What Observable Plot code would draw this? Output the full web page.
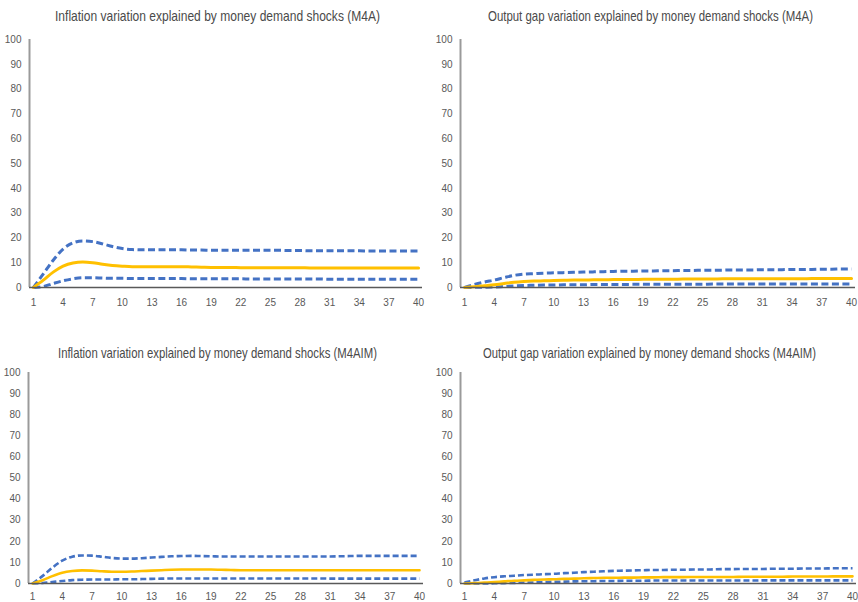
<!DOCTYPE html>
<html><head><meta charset="utf-8">
<script src="https://cdn.jsdelivr.net/npm/d3@7"></script>
<script src="https://cdn.jsdelivr.net/npm/@observablehq/plot@0.6"></script>
<style>
body{margin:0;background:#fff;}
#root{position:relative;width:858px;height:602px;overflow:hidden;background:#fff;}
.title{position:absolute;white-space:nowrap;font-family:"Liberation Sans",Arial,sans-serif;font-size:15px;line-height:17px;color:#4a4a4a;transform-origin:0 50%;}
.panel{position:absolute;}
</style></head><body>
<div id="root"></div>
<script>
const periods = d3.range(1, 41);
const xTicks = [1, 4, 7, 10, 13, 16, 19, 22, 25, 28, 31, 34, 37, 40];
const yTicks = [0, 10, 20, 30, 40, 50, 60, 70, 80, 90, 100];
const titles = [
  "Inflation variation explained by money demand shocks (M4A)",
  "Output gap variation explained by money demand shocks (M4A)",
  "Inflation variation explained by money demand shocks (M4AIM)",
  "Output gap variation explained by money demand shocks (M4AIM)"
];

// Panel 1: Inflation (M4A)
const infM4A_upper = [0,5.5,11,15.5,18,18.8,18.5,17.6,16.5,15.7,15.3,15.2,15.2,15.2,15.2,15.2,15.1,15.1,15.0,15.0,15.0,15.0,15.0,15.0,15.0,15.0,14.9,14.9,14.8,14.8,14.8,14.8,14.8,14.8,14.7,14.7,14.7,14.7,14.7,14.7];
const infM4A_mean  = [0,3,6.2,8.6,9.9,10.3,10.0,9.4,8.9,8.6,8.4,8.4,8.4,8.4,8.4,8.4,8.3,8.2,8.1,8.1,8.1,8.0,8.0,8.0,8.0,8.0,8.0,8.0,7.9,7.9,7.9,7.9,7.9,7.9,7.9,7.9,7.9,7.9,7.9,7.9];
const infM4A_lower = [0,0.4,1.6,2.7,3.5,3.9,3.9,3.8,3.7,3.7,3.6,3.6,3.6,3.6,3.6,3.6,3.5,3.5,3.5,3.5,3.5,3.5,3.4,3.4,3.4,3.4,3.4,3.4,3.4,3.4,3.3,3.3,3.3,3.3,3.3,3.3,3.3,3.3,3.3,3.3];

// Panel 2: Output gap (M4A)
const gapM4A_upper = [0,1.2,2.2,3.0,4.0,4.9,5.4,5.6,5.8,5.9,6.0,6.1,6.2,6.3,6.4,6.5,6.6,6.6,6.7,6.7,6.8,6.8,6.9,6.9,7.0,7.0,7.0,7.1,7.1,7.1,7.2,7.2,7.2,7.3,7.3,7.3,7.4,7.4,7.5,7.5];
const gapM4A_mean  = [0,0.3,0.7,1.1,1.6,2.1,2.4,2.6,2.7,2.8,2.9,3.0,3.0,3.1,3.1,3.2,3.2,3.2,3.3,3.3,3.3,3.3,3.4,3.4,3.4,3.4,3.5,3.5,3.5,3.5,3.5,3.5,3.5,3.5,3.5,3.6,3.6,3.6,3.6,3.6];
const gapM4A_lower = [0,0.05,0.1,0.2,0.4,0.6,0.8,0.9,1.0,1.0,1.1,1.1,1.1,1.2,1.2,1.2,1.2,1.3,1.3,1.3,1.3,1.3,1.3,1.3,1.3,1.4,1.4,1.4,1.4,1.4,1.4,1.4,1.4,1.4,1.4,1.4,1.4,1.4,1.4,1.4];

// Panel 3: Inflation (M4AIM)
const infM4AIM_upper = [0,3.5,7.5,10.8,12.7,13.3,13.2,12.7,12.1,11.8,11.8,12.0,12.3,12.6,12.9,13.0,13.1,13.0,12.9,12.8,12.8,12.8,12.8,12.8,12.8,12.8,12.8,12.8,12.8,12.8,12.8,12.9,13.0,13.1,13.1,13.1,13.1,13.1,13.1,13.1];
const infM4AIM_mean  = [0,1.5,3.5,5.1,5.9,6.2,6.1,5.8,5.6,5.6,5.7,5.9,6.1,6.3,6.5,6.6,6.6,6.6,6.6,6.5,6.4,6.3,6.3,6.3,6.3,6.3,6.3,6.3,6.3,6.3,6.3,6.3,6.3,6.3,6.3,6.3,6.3,6.3,6.3,6.3];
const infM4AIM_lower = [0,0.2,0.7,1.2,1.6,1.8,1.9,1.9,1.9,2.0,2.0,2.1,2.2,2.3,2.4,2.4,2.4,2.4,2.4,2.4,2.4,2.4,2.4,2.4,2.4,2.4,2.4,2.4,2.4,2.4,2.3,2.3,2.3,2.3,2.3,2.3,2.3,2.3,2.3,2.3];

// Panel 4: Output gap (M4AIM)
const gapM4AIM_upper = [0.5,1.5,2.4,3.0,3.4,3.7,4.0,4.2,4.4,4.6,4.9,5.1,5.4,5.6,5.8,6.0,6.1,6.2,6.3,6.4,6.4,6.5,6.5,6.6,6.6,6.7,6.8,6.8,6.9,6.9,6.9,7.0,7.0,7.0,7.1,7.1,7.1,7.2,7.2,7.2];
const gapM4AIM_mean  = [0,0.2,0.4,0.7,1.0,1.3,1.5,1.7,1.9,2.0,2.2,2.3,2.5,2.6,2.7,2.7,2.8,2.8,2.9,2.9,3.0,3.0,3.0,3.1,3.1,3.1,3.1,3.1,3.2,3.2,3.2,3.2,3.2,3.3,3.3,3.3,3.3,3.4,3.4,3.4];
const gapM4AIM_lower = [0,0,0.05,0.1,0.2,0.3,0.4,0.5,0.7,0.8,0.9,1.0,1.1,1.1,1.2,1.2,1.3,1.3,1.3,1.4,1.4,1.4,1.4,1.4,1.4,1.4,1.4,1.4,1.4,1.4,1.5,1.5,1.5,1.5,1.5,1.5,1.5,1.5,1.5,1.5];

const blue = "#4472C4", gold = "#FFC000";
const xDomain = [0.6, 40.4];
const fontFam = '"Liberation Sans",Arial,sans-serif';

const panels = [
  {title: titles[0], up: infM4A_upper, mean: infM4A_mean, low: infM4A_lower, left: 0, top: 24, height: 286, mL: 29, mR: 7, mT: 15, mB: 23, pad: 11, tx: 55, tw: 325, ty: 7, sw: 3, dash: "7,3.5"},
  {title: titles[1], up: gapM4A_upper, mean: gapM4A_mean, low: gapM4A_lower, left: 429, top: 24, height: 286, mL: 31, mR: 3, mT: 15, mB: 23, pad: 11, tx: 488, tw: 325, ty: 7, sw: 3, dash: "7,3.5"},
  {title: titles[2], up: infM4AIM_upper, mean: infM4AIM_mean, low: infM4AIM_lower, left: 0, top: 362, height: 240, mL: 28, mR: 6, mT: 10, mB: 19, pad: 9, tx: 58, tw: 319, ty: 344, sw: 2.6, dash: "6,3"},
  {title: titles[3], up: gapM4AIM_upper, mean: gapM4AIM_mean, low: gapM4AIM_lower, left: 429, top: 362, height: 240, mL: 31, mR: 2, mT: 10, mB: 19, pad: 9, tx: 483, tw: 333, ty: 344, sw: 2.6, dash: "6,3"}
];

const root = document.getElementById("root");
for (const p of panels) {
  const rows = periods.map((t, i) => ({t, upper: p.up[i], mean: p.mean[i], lower: p.low[i]}));
  const t = document.createElement("div");
  t.className = "title";
  t.textContent = p.title;
  t.style.left = p.tx + "px";
  t.style.top = p.ty + "px";
  root.appendChild(t);
  const w = t.getBoundingClientRect().width;
  t.style.transform = `scaleX(${p.tw / w})`;

  const chart = Plot.plot({
    width: 429, height: p.height,
    marginLeft: p.mL, marginRight: p.mR, marginTop: p.mT, marginBottom: p.mB,
    x: {domain: xDomain},
    y: {domain: [0, 100]},
    style: {fontFamily: fontFam, fontSize: "10px", color: "#595959", background: "transparent", overflow: "visible"},
    marks: [
      Plot.ruleX([xDomain[0]], {stroke: "#9a9a9a", strokeWidth: 2}),
      Plot.axisY({ticks: yTicks, tickSize: 0, tickPadding: 8, label: null}),
      Plot.axisX({ticks: xTicks, tickSize: 0, tickPadding: p.pad, label: null}),
      Plot.line(rows, {x: "t", y: "upper", stroke: blue, strokeWidth: p.sw, strokeDasharray: p.dash, strokeLinecap: "butt", curve: "monotone-x"}),
      Plot.line(rows, {x: "t", y: "lower", stroke: blue, strokeWidth: p.sw, strokeDasharray: p.dash, strokeLinecap: "butt", curve: "monotone-x"}),
      Plot.line(rows, {x: "t", y: "mean", stroke: gold, strokeWidth: p.sw, curve: "monotone-x"}),
      Plot.ruleY([0], {stroke: "#595959", strokeWidth: 1.5})
    ]
  });
  const wrap = document.createElement("div");
  wrap.className = "panel";
  wrap.style.left = p.left + "px";
  wrap.style.top = p.top + "px";
  wrap.appendChild(chart);
  root.appendChild(wrap);
}
</script>
</body></html>
